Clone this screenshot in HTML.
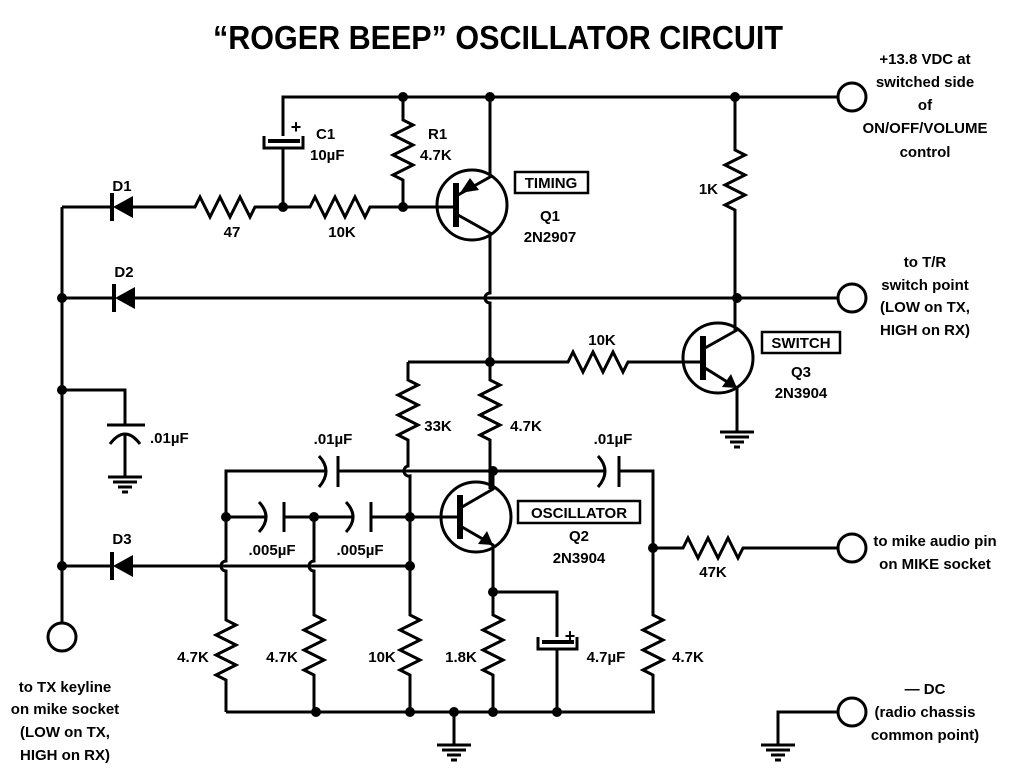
<!DOCTYPE html>
<html><head><meta charset="utf-8"><style>
html,body{margin:0;padding:0;background:#fff}
svg{display:block}
text{font-family:"Liberation Sans",Arial,sans-serif;font-weight:bold;fill:#000}
</style></head><body>
<svg width="1022" height="779" viewBox="0 0 1022 779" xmlns="http://www.w3.org/2000/svg">
<defs>
<g id="gnd"><line x1="-17" y1="0" x2="17" y2="0"/><line x1="-12" y1="5" x2="12" y2="5"/><line x1="-7" y1="10" x2="7" y2="10"/><line x1="-3" y1="15" x2="3" y2="15"/></g>
<g id="dio"><line x1="0" y1="-14" x2="0" y2="14" stroke-width="4"/><polygon points="1,0 21,-11 21,11" fill="#000" stroke="none"/></g>
</defs>
<text x="498" y="49" font-size="33" text-anchor="middle" textLength="570" lengthAdjust="spacingAndGlyphs">“ROGER BEEP” OSCILLATOR CIRCUIT</text>

<g fill="none" stroke="#000" stroke-width="3" stroke-linejoin="miter">
<path d="M283 136 V97 H838"/>
<circle cx="852" cy="97" r="14"/>
<path d="M264 136 V148 H303 V136"/>
<rect x="268" y="139" width="32" height="4" fill="#000" stroke="none"/>
<path d="M283 148 V207"/>
<path d="M403 97 V120 l10 5 l-20 10 l20 10 l-20 10 l20 10 l-20 10 l10 5 V207"/>
<path d="M62 207 H112 M133 207 H195 l5 -10 l10 20 l10 -20 l10 20 l10 -20 l10 20 l5 -10 H310 l5 -10 l10 20 l10 -20 l10 20 l10 -20 l10 20 l5 -10 H454"/>
<circle cx="472" cy="205" r="35"/>
<path d="M458 195 L490 177 V97"/>
<path d="M458 215 L490 233 V293 A5 5 0 0 0 490 303 V362"/>
<path d="M62 207 V623"/>
<circle cx="62" cy="637" r="14"/>
<path d="M62 298 H112 M133 298 H838"/>
<circle cx="852" cy="298" r="14"/>
<path d="M735 97 V150 l10 5 l-20 10 l20 10 l-20 10 l20 10 l-20 10 l10 5 V330"/>
<circle cx="718" cy="358" r="35"/>
<path d="M490 362 H568 l5 -10 l10 20 l10 -20 l10 20 l10 -20 l10 20 l5 -10 H701"/>
<path d="M705 348 L737 330"/>
<path d="M705 368 L737 388 V432"/>
<path d="M62 390 H125 V425 M107 425 H145 M110 444 Q125 424 140 444 M125 434 V477"/>
<path d="M408 362 H490"/>
<path d="M408 362 V380 l10 5 l-20 10 l20 10 l-20 10 l20 10 l-20 10 l10 5 V466 A5 5 0 0 0 410 476 V615 l10 5 l-20 10 l20 10 l-20 10 l20 10 l-20 10 l10 5 V712" />
<path d="M490 362 V380 l10 5 l-20 10 l20 10 l-20 10 l20 10 l-20 10 l10 5 V489"/>
<path d="M226 712 V680 l-10 -5 l20 -10 l-20 -10 l20 -10 l-20 -10 l20 -10 l-10 -5 V571 A5 5 0 0 1 226 561 V471 H325 M319 456 Q333 471 319 487 M338 456 V487 M338 471 H493"/>
<path d="M493 471 H604 M598 456 Q612 471 598 487 M619 456 V487 M619 471 H653 V615 l10 5 l-20 10 l20 10 l-20 10 l20 10 l-20 10 l10 5 V712"/>
<path d="M226 517 H265 M259 502 Q273 517 259 532 M284 502 V532 M284 517 H352 M346 502 Q360 517 346 532 M371 502 V532 M371 517 H458"/>
<path d="M314 517 V561 A5 5 0 0 0 314 571 V615 l10 5 l-20 10 l20 10 l-20 10 l20 10 l-20 10 l10 5 V712"/>
<path d="M62 566 H112 M133 566 H410"/>
<circle cx="476" cy="517" r="35"/>
<path d="M462 507 L493 489 V471"/>
<path d="M462 527 L493 545 V615 l10 5 l-20 10 l20 10 l-20 10 l20 10 l-20 10 l10 5 V712"/>
<path d="M493 592 H557 V637 M538 637 V649 H577 V637 M557 649 V712"/>
<rect x="542" y="640" width="32" height="4" fill="#000" stroke="none"/>
<path d="M226 712 H655 M454 712 V745"/>
<path d="M653 548 H683 l5 -10 l10 20 l10 -20 l10 20 l10 -20 l10 20 l5 -10 H838"/>
<circle cx="852" cy="548" r="14"/>
<path d="M838 712 H778 V745"/>
<circle cx="852" cy="712" r="14"/>
<rect x="515" y="172" width="73" height="21" stroke-width="2.5"/>
<rect x="762" y="332" width="78" height="21" stroke-width="2.5"/>
<rect x="518" y="501" width="122" height="22" stroke-width="2.5"/>
</g>
<!-- transistor bars -->
<g fill="#000">
<rect x="453" y="183" width="6" height="44"/>
<rect x="700" y="336" width="6" height="44"/>
<rect x="457" y="495" width="6" height="44"/>
</g>
<polygon points="460,193 470,178 479,190" fill="#000"/>
<polygon points="737,388 722,387 731,374" fill="#000"/>
<polygon points="493,545 478,544 487,531" fill="#000"/>
<g stroke="#000" stroke-width="3"><use href="#dio" x="112" y="207"/><use href="#dio" x="114" y="298"/><use href="#dio" x="112" y="566"/>
<use href="#gnd" x="125" y="477"/><use href="#gnd" x="737" y="432"/><use href="#gnd" x="454" y="745"/><use href="#gnd" x="778" y="745"/></g>
<g fill="#000">
<circle cx="403" cy="97" r="5"/><circle cx="490" cy="97" r="5"/><circle cx="735" cy="97" r="5"/>
<circle cx="283" cy="207" r="5"/><circle cx="403" cy="207" r="5"/>
<circle cx="62" cy="298" r="5"/><circle cx="737" cy="298" r="5"/><circle cx="62" cy="390" r="5"/><circle cx="62" cy="566" r="5"/>
<circle cx="490" cy="362" r="5"/><circle cx="493" cy="471" r="5"/><circle cx="226" cy="517" r="5"/><circle cx="314" cy="517" r="5"/><circle cx="410" cy="517" r="5"/><circle cx="410" cy="566" r="5"/>
<circle cx="493" cy="592" r="5"/><circle cx="653" cy="548" r="5"/>
<circle cx="316" cy="712" r="5"/><circle cx="410" cy="712" r="5"/><circle cx="454" cy="712" r="5"/><circle cx="493" cy="712" r="5"/><circle cx="557" cy="712" r="5"/>
</g>
<g font-size="15">
<text x="296" y="133" font-size="18" text-anchor="middle">+</text>
<text x="570" y="642" font-size="18" text-anchor="middle">+</text>
<text x="316" y="139">C1</text><text x="310" y="160">10µF</text>
<text x="428" y="139">R1</text><text x="420" y="160">4.7K</text>
<text x="122" y="191" text-anchor="middle">D1</text><text x="124" y="277" text-anchor="middle">D2</text><text x="122" y="544" text-anchor="middle">D3</text>
<text x="232" y="237" text-anchor="middle">47</text><text x="342" y="237" text-anchor="middle">10K</text>
<text x="551" y="188" text-anchor="middle">TIMING</text><text x="550" y="221" text-anchor="middle">Q1</text><text x="550" y="242" text-anchor="middle">2N2907</text>
<text x="718" y="194" text-anchor="end">1K</text>
<text x="602" y="345" text-anchor="middle">10K</text>
<text x="801" y="348" text-anchor="middle">SWITCH</text><text x="801" y="377" text-anchor="middle">Q3</text><text x="801" y="398" text-anchor="middle">2N3904</text>
<text x="150" y="443">.01µF</text>
<text x="333" y="444" text-anchor="middle">.01µF</text><text x="613" y="444" text-anchor="middle">.01µF</text>
<text x="438" y="431" text-anchor="middle">33K</text><text x="526" y="431" text-anchor="middle">4.7K</text>
<text x="579" y="518" text-anchor="middle">OSCILLATOR</text><text x="579" y="541" text-anchor="middle">Q2</text><text x="579" y="563" text-anchor="middle">2N3904</text>
<text x="272" y="555" text-anchor="middle">.005µF</text><text x="360" y="555" text-anchor="middle">.005µF</text>
<text x="713" y="577" text-anchor="middle">47K</text>
<text x="193" y="662" text-anchor="middle">4.7K</text><text x="282" y="662" text-anchor="middle">4.7K</text><text x="382" y="662" text-anchor="middle">10K</text><text x="461" y="662" text-anchor="middle">1.8K</text><text x="606" y="662" text-anchor="middle">4.7µF</text><text x="688" y="662" text-anchor="middle">4.7K</text>
<text x="925" y="64" text-anchor="middle">+13.8 VDC at</text><text x="925" y="87" text-anchor="middle">switched side</text><text x="925" y="110" text-anchor="middle">of</text><text x="925" y="133" text-anchor="middle">ON/OFF/VOLUME</text><text x="925" y="157" text-anchor="middle">control</text>
<text x="925" y="267" text-anchor="middle">to T/R</text><text x="925" y="290" text-anchor="middle">switch point</text><text x="925" y="312" text-anchor="middle">(LOW on TX,</text><text x="925" y="335" text-anchor="middle">HIGH on RX)</text>
<text x="935" y="546" text-anchor="middle">to mike audio pin</text><text x="935" y="569" text-anchor="middle">on MIKE socket</text>
<text x="925" y="694" text-anchor="middle">— DC</text><text x="925" y="717" text-anchor="middle">(radio chassis</text><text x="925" y="740" text-anchor="middle">common point)</text>
<text x="65" y="692" text-anchor="middle">to TX keyline</text><text x="65" y="714" text-anchor="middle">on mike socket</text><text x="65" y="737" text-anchor="middle">(LOW on TX,</text><text x="65" y="760" text-anchor="middle">HIGH on RX)</text>
</g>
</svg>
</body></html>
